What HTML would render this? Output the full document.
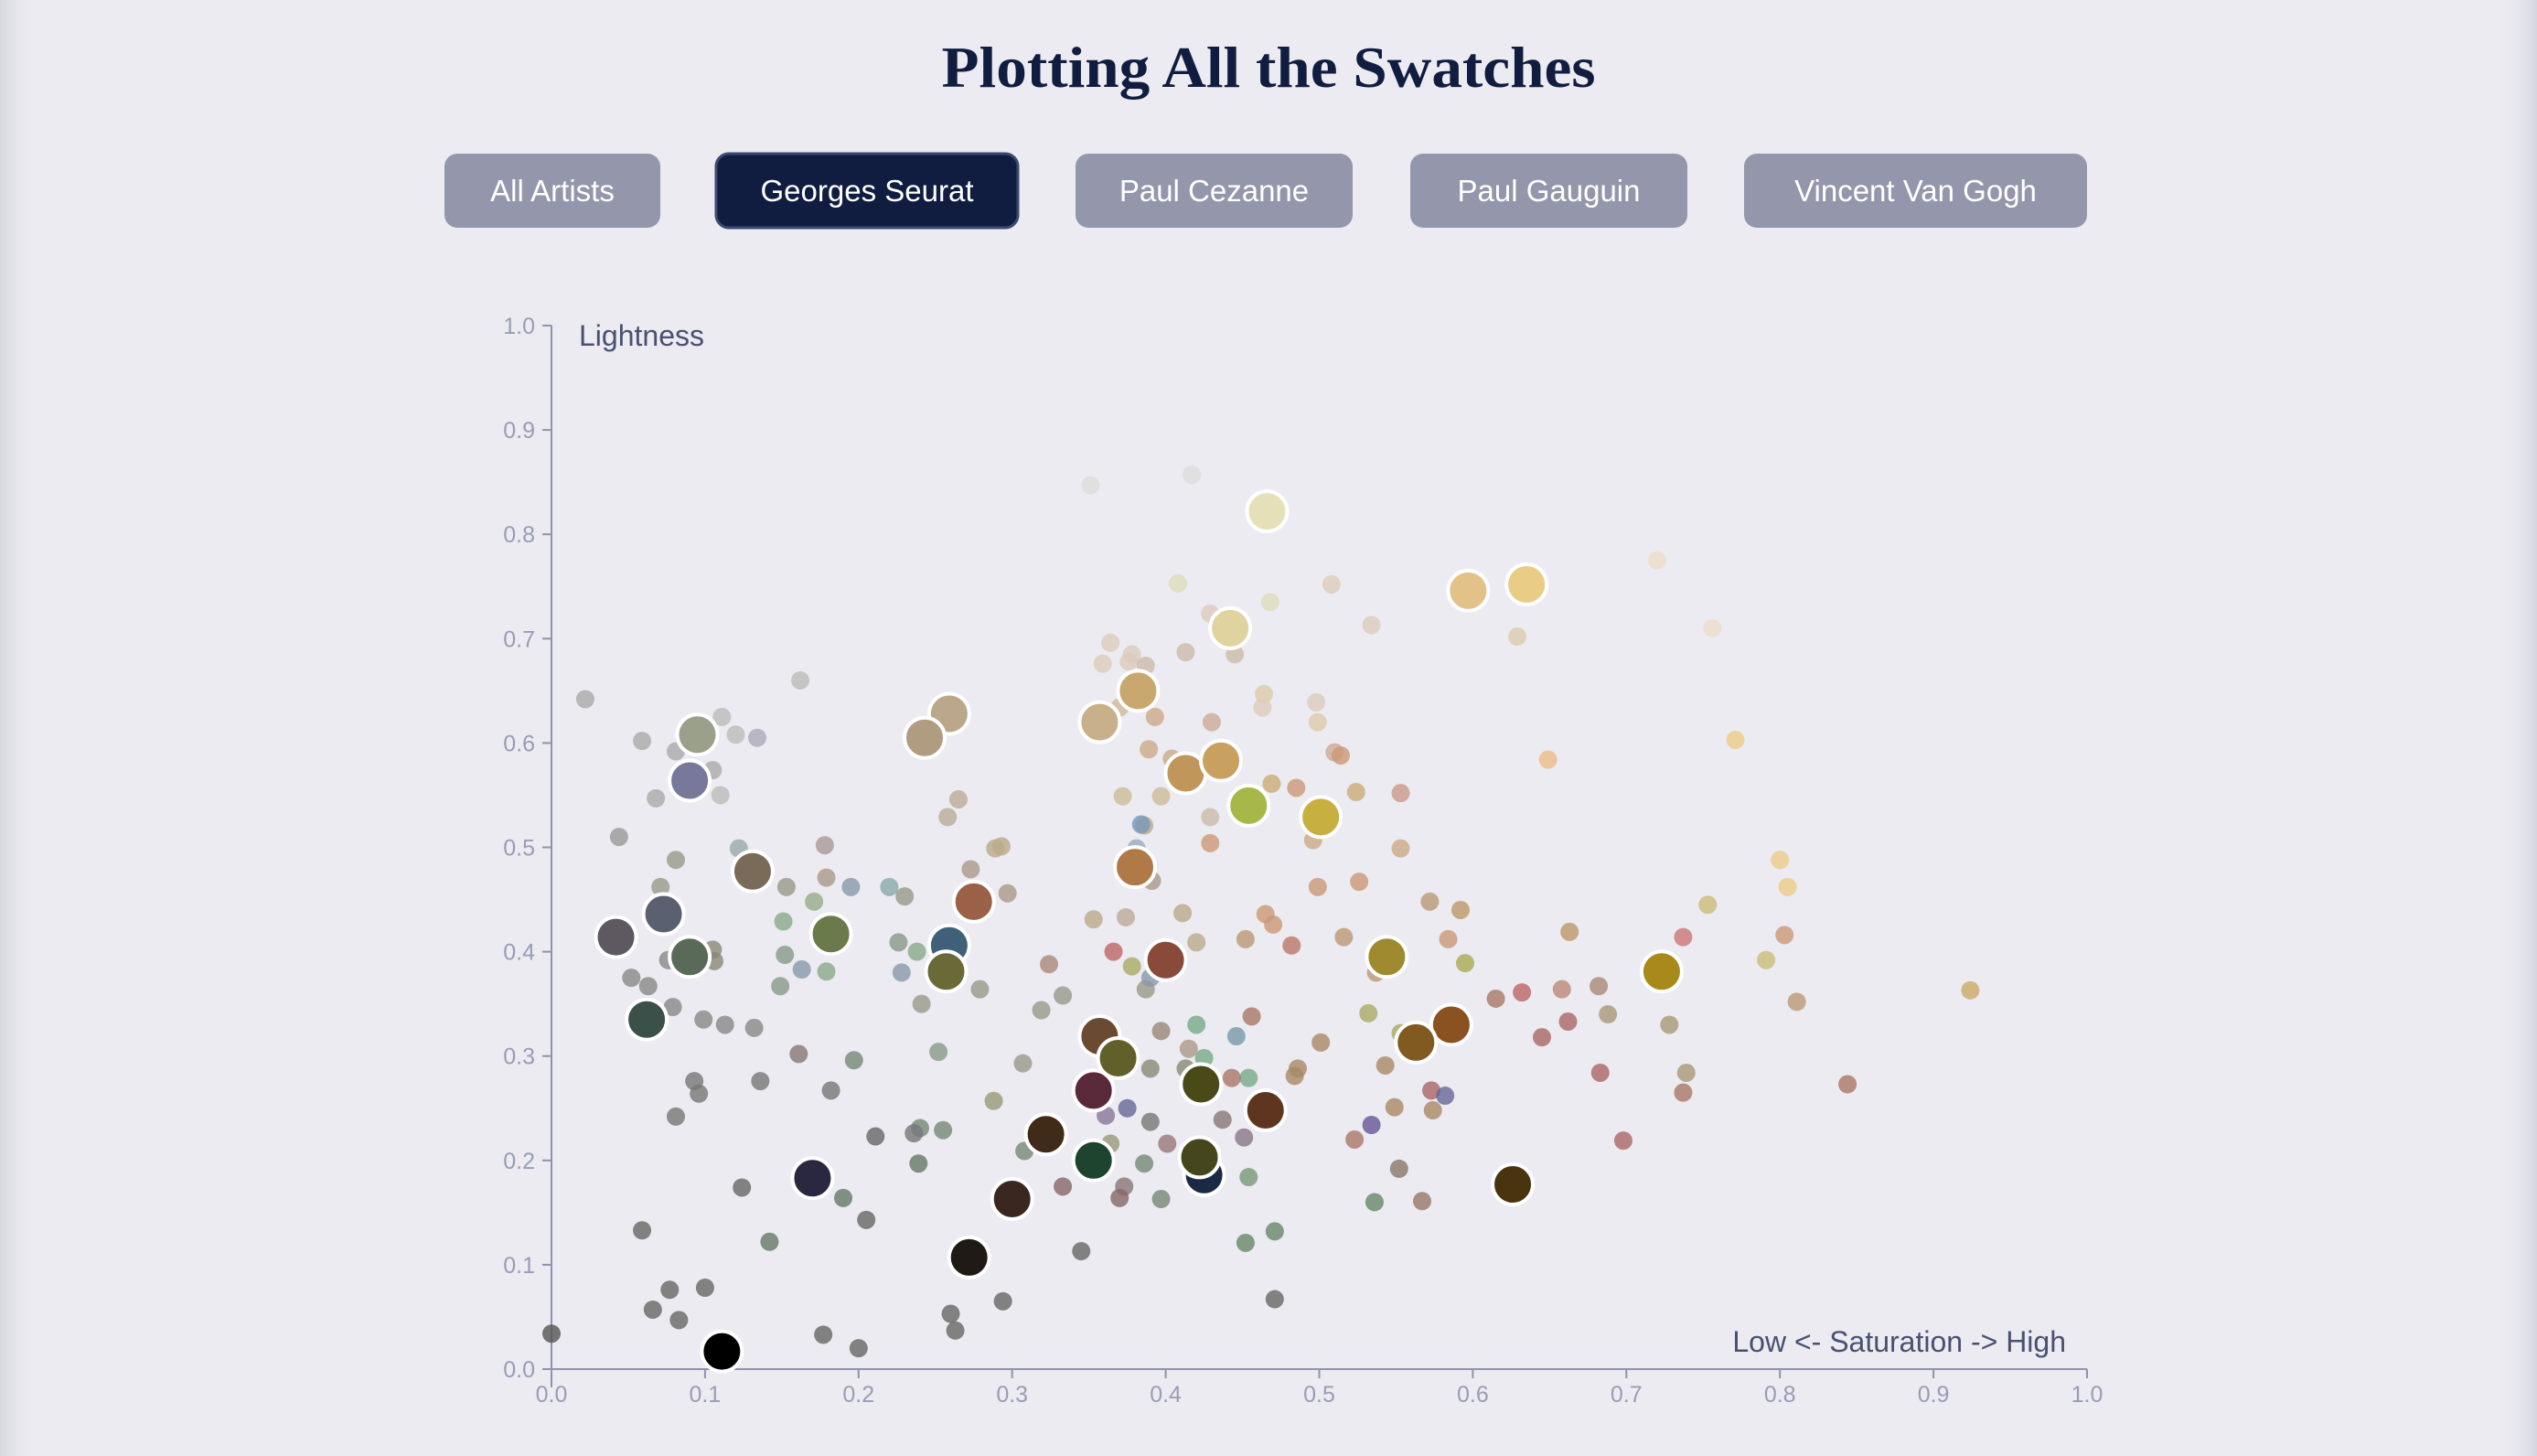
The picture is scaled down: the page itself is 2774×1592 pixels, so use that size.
<!DOCTYPE html>
<html><head><meta charset="utf-8"><style>
html,body{margin:0;padding:0;width:2774px;height:1592px;overflow:hidden;background:#ebebf1}
svg{display:block}
</style></head><body>
<svg id="chart" width="2774" height="1592" viewBox="0 0 2774 1592" xmlns="http://www.w3.org/2000/svg">
<defs>
<linearGradient id="lshade" x1="0" x2="1"><stop offset="0" stop-color="#d6d6de"/><stop offset="1" stop-color="#ebebf1" stop-opacity="0"/></linearGradient>
<linearGradient id="rshade" x1="1" x2="0"><stop offset="0" stop-color="#d6d6de"/><stop offset="1" stop-color="#ebebf1" stop-opacity="0"/></linearGradient>
</defs>
<rect x="0" y="0" width="2774" height="1592" fill="#ebebf1"/>
<rect x="0" y="0" width="40" height="1592" fill="url(#lshade)"/>
<rect x="2734" y="0" width="40" height="1592" fill="url(#rshade)"/>
<text x="1387" y="95" text-anchor="middle" font-family="Liberation Serif, serif" font-weight="bold" font-size="64" fill="#111d40" textLength="715" lengthAdjust="spacingAndGlyphs">Plotting All the Swatches</text>
<g id="buttons"></g>
<g id="axes"></g>
<g id="points"></g>
</svg>
<script>
const NS='http://www.w3.org/2000/svg';
const buttonLabels=['All Artists','Georges Seurat','Paul Cezanne','Paul Gauguin','Vincent Van Gogh'];
const activeButton=1;
const xTicks=[0,0.1,0.2,0.3,0.4,0.5,0.6,0.7,0.8,0.9,1.0];
const yTicks=[0,0.1,0.2,0.3,0.4,0.5,0.6,0.7,0.8,0.9,1.0];
// small swatches
const smallSat=[0,.022,.044,.059,.068,.081,.111,.105,.110,.120,.134,.162,.059,.066,.077,.083,.100,.081,.093,.096,.052,.063,.081,.071,.077,.076,.079,.099,.113,.132,.106,.105,.097,.122,.153,.171,.178,.179,.195,.151,.152,.163,.149,.179,.161,.136,.182,.197,.211,.190,.205,.142,.124,.177,.200,.260,.263,.294,.220,.230,.226,.228,.238,.241,.240,.239,.236,.255,.252,.279,.273,.289,.293,.297,.258,.265,.324,.333,.319,.307,.288,.308,.333,.345,.351,.417,.408,.508,.468,.429,.364,.378,.376,.359,.387,.413,.445,.534,.629,.720,.756,.430,.464,.463,.498,.499,.510,.514,.389,.393,.404,.370,.372,.397,.429,.429,.469,.485,.524,.553,.649,.771,.386,.384,.381,.391,.496,.526,.553,.353,.374,.411,.420,.465,.470,.499,.452,.482,.516,.572,.592,.584,.595,.537,.553,.615,.632,.658,.663,.682,.688,.662,.645,.737,.753,.800,.805,.803,.791,.811,.924,.728,.739,.737,.683,.698,.844,.366,.378,.387,.390,.397,.415,.420,.425,.413,.456,.446,.454,.443,.486,.484,.501,.532,.543,.573,.582,.549,.534,.523,.574,.552,.536,.567,.390,.366,.390,.375,.361,.364,.373,.370,.386,.397,.401,.437,.451,.454,.452,.471,.471];
const smallLight=[.034,.642,.510,.602,.547,.592,.625,.574,.550,.608,.605,.660,.133,.057,.076,.047,.078,.242,.276,.264,.375,.367,.488,.462,.433,.392,.347,.335,.330,.327,.391,.402,.392,.499,.462,.448,.502,.471,.462,.429,.397,.383,.367,.381,.302,.276,.267,.296,.223,.164,.143,.122,.174,.033,.020,.053,.037,.065,.462,.453,.409,.380,.400,.350,.231,.197,.226,.229,.304,.364,.479,.499,.501,.456,.529,.546,.388,.358,.344,.293,.257,.209,.175,.113,.847,.857,.753,.752,.735,.724,.696,.685,.678,.676,.674,.687,.685,.713,.702,.775,.710,.620,.647,.634,.639,.620,.591,.588,.594,.625,.585,.634,.549,.549,.529,.504,.561,.557,.553,.552,.584,.603,.521,.522,.499,.468,.507,.467,.499,.431,.433,.437,.409,.436,.426,.462,.412,.406,.414,.448,.440,.412,.389,.380,.322,.355,.361,.364,.419,.367,.340,.333,.318,.414,.445,.488,.462,.416,.392,.352,.363,.330,.284,.265,.284,.219,.273,.400,.386,.364,.375,.324,.307,.330,.298,.288,.338,.319,.279,.279,.288,.281,.313,.341,.291,.267,.262,.251,.234,.220,.248,.192,.160,.161,.288,.301,.237,.250,.243,.216,.175,.164,.197,.163,.216,.239,.222,.184,.121,.132,.067];
const smallColor=['#555','#aaa','#999','#aaa','#aaa','#aaa','#bbb','#aaa','#bbb','#bbb','#aab','#bbb','#666','#666','#666','#666','#666','#777','#777','#777','#888','#888','#998','#998','#887','#888','#888','#888','#888','#888','#887','#887','#998','#9aa','#998','#9a8','#a99','#a98','#89a','#8a8','#898','#89a','#898','#8a8','#877','#777','#777','#787','#666','#676','#666','#676','#666','#666','#666','#666','#666','#666','#8aa','#998','#898','#89a','#8a8','#998','#787','#676','#777','#787','#898','#998','#a98','#ba8','#ba8','#a98','#ba9','#ba9','#a87','#998','#998','#998','#997','#787','#866','#666','#ddd','#ddd','#ddb','#dcb','#ddb','#dcb','#dcb','#dcb','#dcb','#dcb','#cba','#cba','#cba','#dcb','#dca','#edc','#edc','#ca9','#dca','#dcb','#dcb','#dca','#ca9','#c97','#ca8','#ca8','#ca8','#cb9','#cb9','#cb9','#cba','#c97','#ca7','#c97','#ca7','#c98','#eb8','#ec8','#ba8','#79b','#9ab','#a98','#ca8','#c97','#ca8','#ba8','#ba9','#ba8','#ba8','#c97','#c97','#c97','#b97','#b76','#b97','#b97','#b96','#c97','#aa5','#b97','#aa6','#a76','#b66','#b87','#b96','#a87','#a97','#a66','#a66','#c77','#cb7','#ec8','#ec8','#c97','#cb7','#b97','#ca6','#a97','#a97','#a76','#a66','#a66','#a76','#b66','#aa6','#998','#89a','#987','#a98','#7a8','#7a8','#887','#a76','#79a','#7a8','#a76','#a86','#a86','#a86','#aa6','#a86','#a66','#669','#a86','#659','#a76','#a86','#876','#686','#976','#887','#876','#777','#669','#879','#997','#877','#866','#787','#787','#977','#877','#878','#797','#686','#686','#666'];
// highlighted swatches
const bigSat=[.466,.597,.635,.442,.382,.357,.259,.243,.095,.090,.413,.436,.454,.501,.131,.380,.275,.182,.042,.073,.090,.259,.257,.400,.544,.723,.586,.563,.062,.357,.369,.353,.423,.465,.322,.353,.425,.422,.170,.626,.300,.272,.111];
const bigLight=[.822,.746,.752,.710,.650,.620,.628,.605,.608,.564,.571,.583,.540,.529,.477,.481,.448,.417,.414,.436,.395,.406,.381,.392,.395,.381,.330,.313,.335,.319,.298,.267,.273,.248,.225,.200,.186,.203,.183,.177,.163,.107,.017];
const bigColor=['#e6e0b8','#e3c28a','#e9cc85','#e0d3a0','#c8a86e','#c8b08a','#bba88a','#b09c80','#9aa08a','#77789a','#c0965a','#c8a060','#a8b848','#c8b040','#7a6a58','#b07a48','#9a6048','#6a7a4a','#5e5860','#5a6070','#5a6a58','#3e6078','#6a6a38','#8a4a3a','#a08a30','#a88a1a','#8a5220','#805a20','#3a5048','#6a4a30','#62602a','#5a2a3a','#4a4a18','#5e3620','#402a18','#1e4430','#1a2a44','#46461c','#2a2840','#4a3410','#3a2820','#201a16','#000'];

const X0=603,X1=2282,Y0=1497,Y1=356;
const xs=v=>X0+(X1-X0)*v;
const ys=v=>Y0-(Y0-Y1)*v;
function mk(tag,attrs,parent){const e=document.createElementNS(NS,tag);for(const k in attrs)e.setAttribute(k,attrs[k]);parent.appendChild(e);return e;}

// buttons
const bX=[486,783,1176,1542,1907],bW=[236,330,303,303,375];
const bg=document.getElementById('buttons');
buttonLabels.forEach((t,i)=>{
  const g=mk('g',{},bg);
  
  
  const act=i===activeButton;
  mk('rect',{x:bX[i],y:168,width:bW[i],height:81,rx:14,fill:act?'#111d40':'#9496ab',stroke:act?'#3b4a70':'none','stroke-width':3},g);
  const tx=mk('text',{x:bX[i]+bW[i]/2,y:220,'text-anchor':'middle','font-family':'Liberation Sans, sans-serif','font-size':33,fill:'#fff'},g);
  tx.textContent=t;
});

// axes
const ax=document.getElementById('axes');
const yl=mk('line',{x1:X0,y1:Y1,x2:X0,y2:Y0+20,stroke:'#9092ad','stroke-width':2},ax);


const xl=mk('line',{x1:X0-10,y1:Y0,x2:X1,y2:Y0,stroke:'#9092ad','stroke-width':2},ax);


yTicks.forEach(v=>{
  mk('line',{x1:X0-10,y1:ys(v),x2:X0,y2:ys(v),stroke:'#9092ad','stroke-width':2},ax);
  const t=mk('text',{x:X0-18,y:ys(v)+9,'text-anchor':'end','font-family':'Liberation Sans, sans-serif','font-size':25,fill:'#9a9cb5'},ax);
  
  
  t.textContent=v.toFixed(1);
});
xTicks.forEach(v=>{
  mk('line',{x1:xs(v),y1:Y0,x2:xs(v),y2:Y0+10,stroke:'#9092ad','stroke-width':2},ax);
  const t=mk('text',{x:xs(v),y:Y0+36,'text-anchor':'middle','font-family':'Liberation Sans, sans-serif','font-size':25,fill:'#9a9cb5'},ax);
  
  
  t.textContent=v.toFixed(1);
});
const yt=mk('text',{x:633,y:378,'font-family':'Liberation Sans, sans-serif','font-size':32,fill:'#4a5070'},ax);


yt.textContent='Lightness';
const xt=mk('text',{x:2259,y:1478,'text-anchor':'end','font-family':'Liberation Sans, sans-serif','font-size':32,fill:'#4a5070'},ax);


xt.textContent='Low <- Saturation -> High';

// points
const pg=document.getElementById('points');
smallSat.forEach((s,i)=>{
  const c=mk('circle',{cx:xs(s),cy:ys(smallLight[i]),r:10,fill:smallColor[i],'fill-opacity':0.8},pg);
  
  
});
bigSat.forEach((s,i)=>{
  const c=mk('circle',{cx:xs(s),cy:ys(bigLight[i]),r:22,fill:bigColor[i],stroke:'#fff','stroke-width':4},pg);
  
  
});
</script>
</body></html>
